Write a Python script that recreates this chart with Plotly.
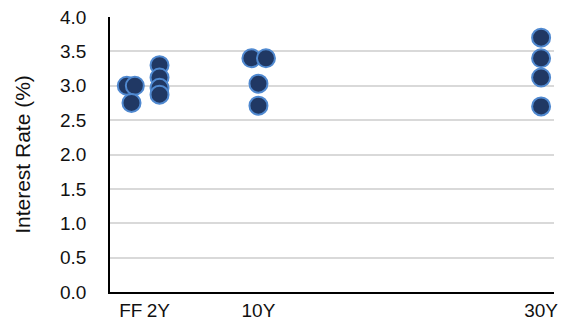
import plotly.graph_objects as go

# Tick labels and their positions on the horizontal axis (chart units)
tenor_labels = ["FF", "2Y", "10Y", "30Y"]
tenor_pos = [1.5, 3.48, 10.7, 31.07]

# Dot-plot points: horizontal position (chart units) and interest rate (%)
ff_x = [1.21, 1.79, 1.55]
ff_y = [3.0, 3.0, 2.75]
y2_x = [3.57, 3.57, 3.57, 3.57]
y2_y = [3.3, 3.12, 2.97, 2.87]
y10_x = [10.19, 11.24, 10.7, 10.7]
y10_y = [3.4, 3.4, 3.03, 2.71]
y30_x = [31.07, 31.07, 31.07, 31.07]
y30_y = [3.7, 3.4, 3.12, 2.7]

y_ticks = [0.0, 0.5, 1.0, 1.5, 2.0, 2.5, 3.0, 3.5, 4.0]

xs = ff_x + y2_x + y10_x + y30_x
ys = ff_y + y2_y + y10_y + y30_y

fig = go.Figure()
fig.add_trace(go.Scatter(
    x=xs, y=ys, mode="markers",
    marker=dict(size=18, color="#203864", line=dict(color="#5089D0", width=2)),
    cliponaxis=False, showlegend=False,
))

font = dict(family="Liberation Sans, Arial, sans-serif", size=19, color="#111111")
title_font = dict(family="Liberation Sans, Arial, sans-serif", size=21, color="#111111")

fig.update_layout(
    width=564, height=327,
    margin=dict(l=110, r=6, t=17, b=35),
    paper_bgcolor="white", plot_bgcolor="white",
    font=font,
    xaxis=dict(
        range=[0, 32], tickmode="array", tickvals=tenor_pos, ticktext=tenor_labels,
        showgrid=False, zeroline=False, showline=True, linecolor="#000000", linewidth=1.5,
        ticks="", tickfont=font,
    ),
    yaxis=dict(
        range=[0, 4.0], tickmode="array", tickvals=y_ticks,
        ticktext=[f"{v:.1f}" for v in y_ticks],
        showgrid=True, gridcolor="#D9D9D9", gridwidth=1.5, zeroline=False,
        showline=True, linecolor="#000000", linewidth=1.5, ticks="",
        ticklabelstandoff=18, tickfont=font,
        title=dict(text="Interest Rate (%)", font=title_font, standoff=24),
    ),
)

fig.write_html("out.html")
